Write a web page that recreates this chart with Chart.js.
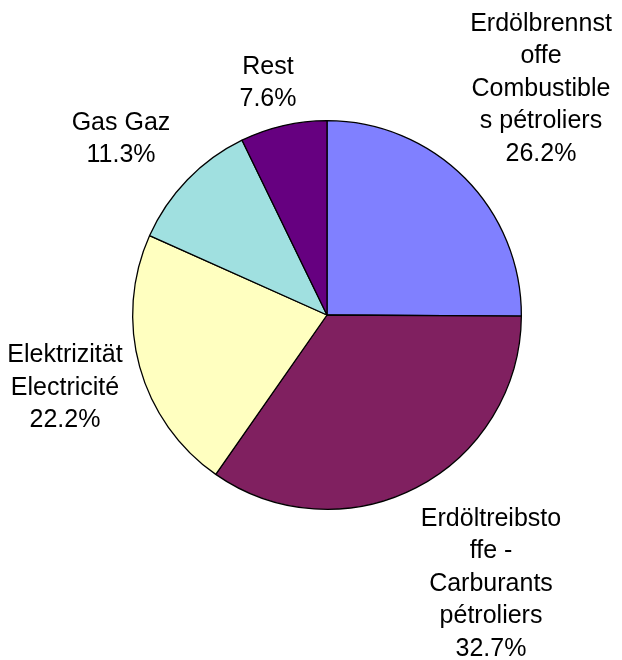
<!DOCTYPE html>
<html>
<head>
<meta charset="utf-8">
<script src="https://cdn.jsdelivr.net/npm/chart.js@4.4.1/dist/chart.umd.min.js"></script>
<style>
  html, body { margin: 0; padding: 0; background: #fff; }
  #wrap { width: 622px; height: 660px; }
</style>
</head>
<body>
<div id="wrap"><canvas id="myChart" width="622" height="660"></canvas></div>
<script>
// Data
const categories = [
  ["Erdölbrennst", "offe", "Combustible", "s pétroliers"],
  ["Erdöltreibsto", "ffe -", "Carburants", "pétroliers"],
  ["Elektrizität", "Electricité"],
  ["Gas Gaz"],
  ["Rest"]
];
// slice sizes as drawn in the picture
const shares = [25.1, 34.6, 22.0, 11.1, 7.2];
// percentages as printed on the labels
const pctLabels = ["26.2%", "32.7%", "22.2%", "11.3%", "7.6%"];
const colors = ["#8080FF", "#802060", "#FFFFC0", "#A0E0E0", "#660080"];

// label block centres, relative to pie centre
const labelOffsets = [[214, -226], [164, 269], [-262, 73], [-206, -176], [-59, -232]];

const labelPlugin = {
  id: 'outsideLabels',
  afterDatasetsDraw(chart) {
    const ctx = chart.ctx;
    const arcs = chart.getDatasetMeta(0).data;
    ctx.save();
    ctx.font = '25px "Liberation Sans", Arial, sans-serif';
    ctx.fillStyle = '#000';
    ctx.textAlign = 'center';
    ctx.textBaseline = 'middle';
    const lh = 32.5;
    arcs.forEach((arc, i) => {
      const lines = categories[i].concat([pctLabels[i]]);
      const cx = arc.x + labelOffsets[i][0];
      const cy = arc.y + labelOffsets[i][1];
      const top = cy - (lines.length - 1) * lh / 2;
      lines.forEach((t, j) => ctx.fillText(t, cx, top + j * lh));
    });
    ctx.restore();
  }
};

const myChart = new Chart(document.getElementById('myChart'), {
  type: 'pie',
  data: {
    labels: categories,
    datasets: [{
      data: shares,
      backgroundColor: colors,
      borderColor: '#000',
      borderWidth: 1.3
    }]
  },
  options: {
    responsive: false,
    animation: false,
    layout: { padding: { left: 132, right: 100, top: 120, bottom: 150 } },
    plugins: {
      legend: { display: false },
      tooltip: { enabled: false }
    }
  },
  plugins: [labelPlugin]
});
</script>
</body>
</html>
